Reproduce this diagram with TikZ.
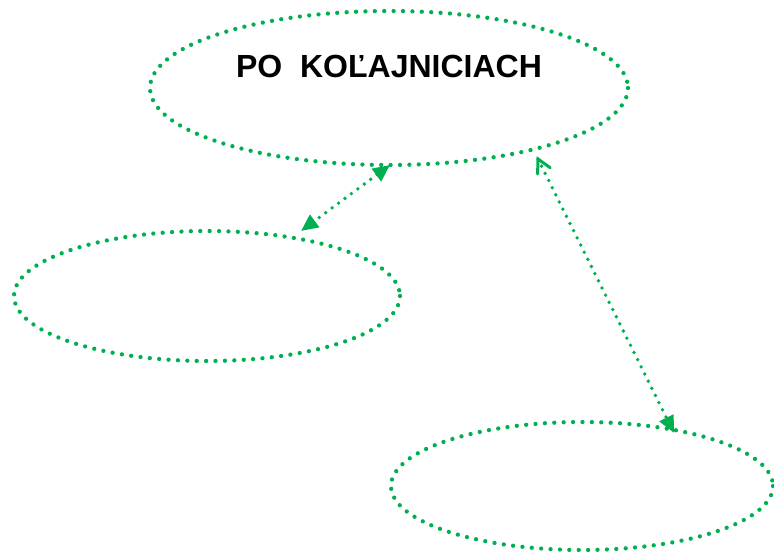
\documentclass[tikz,border=0pt]{standalone}
\usepackage{fontspec}
\setmainfont{Liberation Sans}
\usetikzlibrary{arrows.meta,calc}
\definecolor{grn}{HTML}{00B050}
\tikzset{
  ell/.style={draw=grn, line width=4.3pt, line cap=round, dash pattern=on 0pt off 9.4pt},
  conn/.style={grn, line width=3.8pt, line cap=round, dash pattern=on 0pt off 8pt},
  barb/.style={draw=grn, line width=3pt, line cap=round, line join=miter},
}
\begin{document}
\begin{tikzpicture}[x=1pt,y=-1pt]
\useasboundingbox (0,0) rectangle (774,552);
\draw[ell] (389,88) ellipse [x radius=239, y radius=77];
\draw[ell] (207,296) ellipse [x radius=193, y radius=65];
\draw[ell] (582,486) ellipse [x radius=191, y radius=64];
\node[font=\fontsize{32}{38}\bfseries, anchor=base] (title) at (389,77) {PO\ \ KOĽAJNICIACH};
\coordinate (a1) at (390,165);
\coordinate (a2) at (301,231);
\coordinate (b1) at (538,159);
\coordinate (b2) at (674,433);
\draw[conn, {Triangle[length=17pt,width=15pt]}-{Triangle[length=17pt,width=15pt]}] (a1) -- (a2);
\draw[conn, -{Triangle[length=17pt,width=15pt]}] (b1) -- (b2);
\draw[barb] ($(b1)!15pt!28:(b2)$) -- (b1) -- ($(b1)!15pt!-28:(b2)$);
\end{tikzpicture}
\end{document}
